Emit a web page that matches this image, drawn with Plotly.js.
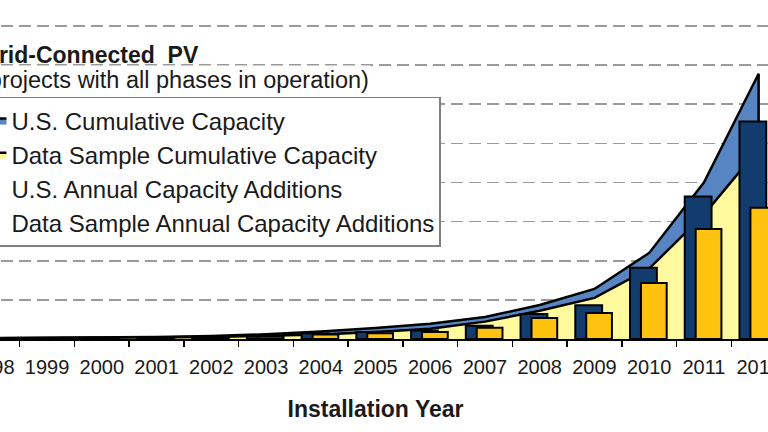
<!DOCTYPE html>
<html>
<head>
<meta charset="utf-8">
<script src="https://cdn.plot.ly/plotly-3.0.1.min.js"></script>
<style>
  html, body { margin:0; padding:0; background:#fff; overflow:hidden; }
  #wrap { position:absolute; left:0; top:0; width:768px; height:432px; overflow:hidden; }
  #chart { position:absolute; left:-40px; top:0; width:848px; height:432px; }
</style>
</head>
<body>
<div id="wrap"><div id="chart"></div></div>
<script>
// Installation years (categories)
const years = ['1998','1999','2000','2001','2002','2003','2004','2005','2006','2007','2008','2009','2010','2011','2012'];
// Cumulative capacity (MW), left axis
const usCumulative     = [12, 15, 20, 26, 38, 60, 95, 140, 195, 280, 435, 640, 1100, 2000, 3390];
const sampleCumulative = [8, 10, 13, 17, 25, 40, 58, 88, 132, 222, 360, 525, 900, 1590, 2430];
// Annual capacity additions (MW), right axis
const usAnnual     = [3, 4, 5, 6, 10, 18, 35, 45, 55, 85, 160, 215, 455, 910, 1390];
const sampleAnnual = [2, 3, 4, 5, 8, 14, 28, 36, 45, 72, 134, 166, 358, 703, 838];

const seriesNames = ['U.S. Cumulative Capacity','Data Sample Cumulative Capacity','U.S. Annual Capacity Additions','Data Sample Annual Capacity Additions'];
const titleBold = 'Grid-Connected  PV';
const titleSub = '(projects with all phases in operation)';
const xTitle = 'Installation Year';

const FONT = 'Arial, "Liberation Sans", sans-serif';
const last = years.length - 1;

// close each area with a drop to zero at the last category so its right edge is outlined
function closedX() { return years.concat([years[last]]); }
function closedY(arr) { return arr.concat([0]); }

const data = [
  {
    type:'scatter', mode:'lines', name:seriesNames[0],
    x: closedX(), y: closedY(usCumulative),
    fill:'tozeroy', fillcolor:'#5784C3',
    line:{color:'#000', width:2.5}, xaxis:'x', yaxis:'y'
  },
  {
    type:'scatter', mode:'lines', name:seriesNames[1],
    x: closedX(), y: closedY(sampleCumulative),
    fill:'tozeroy', fillcolor:'#FFFA9E',
    line:{color:'#000', width:2.5}, xaxis:'x', yaxis:'y'
  },
  {
    type:'bar', name:seriesNames[2], x: years, y: usAnnual,
    width:0.49, offset:-0.35,
    marker:{color:'#133C6E', line:{color:'#000', width:2}},
    xaxis:'x', yaxis:'y2'
  },
  {
    type:'bar', name:seriesNames[3], x: years, y: sampleAnnual,
    width:0.47, offset:-0.15,
    marker:{color:'#FFC20E', line:{color:'#000', width:2}},
    xaxis:'x', yaxis:'y2'
  }
];

const layout = {
  width:848, height:432,
  margin:{l:5, r:22, t:25, b:93},
  paper_bgcolor:'#fff', plot_bgcolor:'rgba(0,0,0,0)',
  barmode:'overlay',
  showlegend:true,
  font:{family:FONT, color:'#1a1a1a'},
  xaxis:{
    type:'category', range:[-0.5, 14.5], fixedrange:true,
    showline:true, linecolor:'#000', linewidth:1.5,
    ticks:'outside', tickson:'boundaries', ticklen:6, tickwidth:1.5, tickcolor:'#000',
    ticklabelstandoff:9,
    tickfont:{family:FONT, size:20, color:'#1a1a1a'},
    showgrid:false, zeroline:false,
    title:{text:'<b>' + xTitle + '</b>', font:{family:FONT, size:23, color:'#1a1a1a'}, standoff:24}
  },
  yaxis:{
    range:[0, 4013], dtick:500, tick0:0, fixedrange:true,
    showgrid:true, gridcolor:'#9a9a9a', gridwidth:1.6, griddash:'12px,6px',
    showticklabels:false, ticks:'', zeroline:false, showline:false
  },
  yaxis2:{
    range:[0, 2006.5], overlaying:'y', side:'right', fixedrange:true,
    showgrid:false, showticklabels:false, ticks:'', zeroline:false, showline:false
  },
  legend:{
    x:0.006, xanchor:'left', y:0.771, yanchor:'top',
    bgcolor:'#fff', bordercolor:'#7f7f7f', borderwidth:1.5,
    font:{family:FONT, size:24, color:'#1a1a1a'},
    traceorder:'normal', itemwidth:30
  },
  annotations:[
    {
      xref:'paper', yref:'paper', x:0, y:1, xanchor:'left', yanchor:'middle',
      xshift:14, yshift:-55, showarrow:false, align:'left',
      text:titleSub, bgcolor:'#fff', borderpad:1,
      font:{family:FONT, size:23.5, color:'#1a1a1a'}
    },
    {
      xref:'paper', yref:'paper', x:0, y:1, xanchor:'left', yanchor:'middle',
      xshift:14, yshift:-30, showarrow:false, align:'left',
      text:'<b>' + titleBold + '</b>',
      font:{family:FONT, size:23, color:'#1a1a1a'}
    }
  ]
};

Plotly.newPlot('chart', data, layout, {displayModeBar:false, staticPlot:true});
</script>
</body>
</html>
